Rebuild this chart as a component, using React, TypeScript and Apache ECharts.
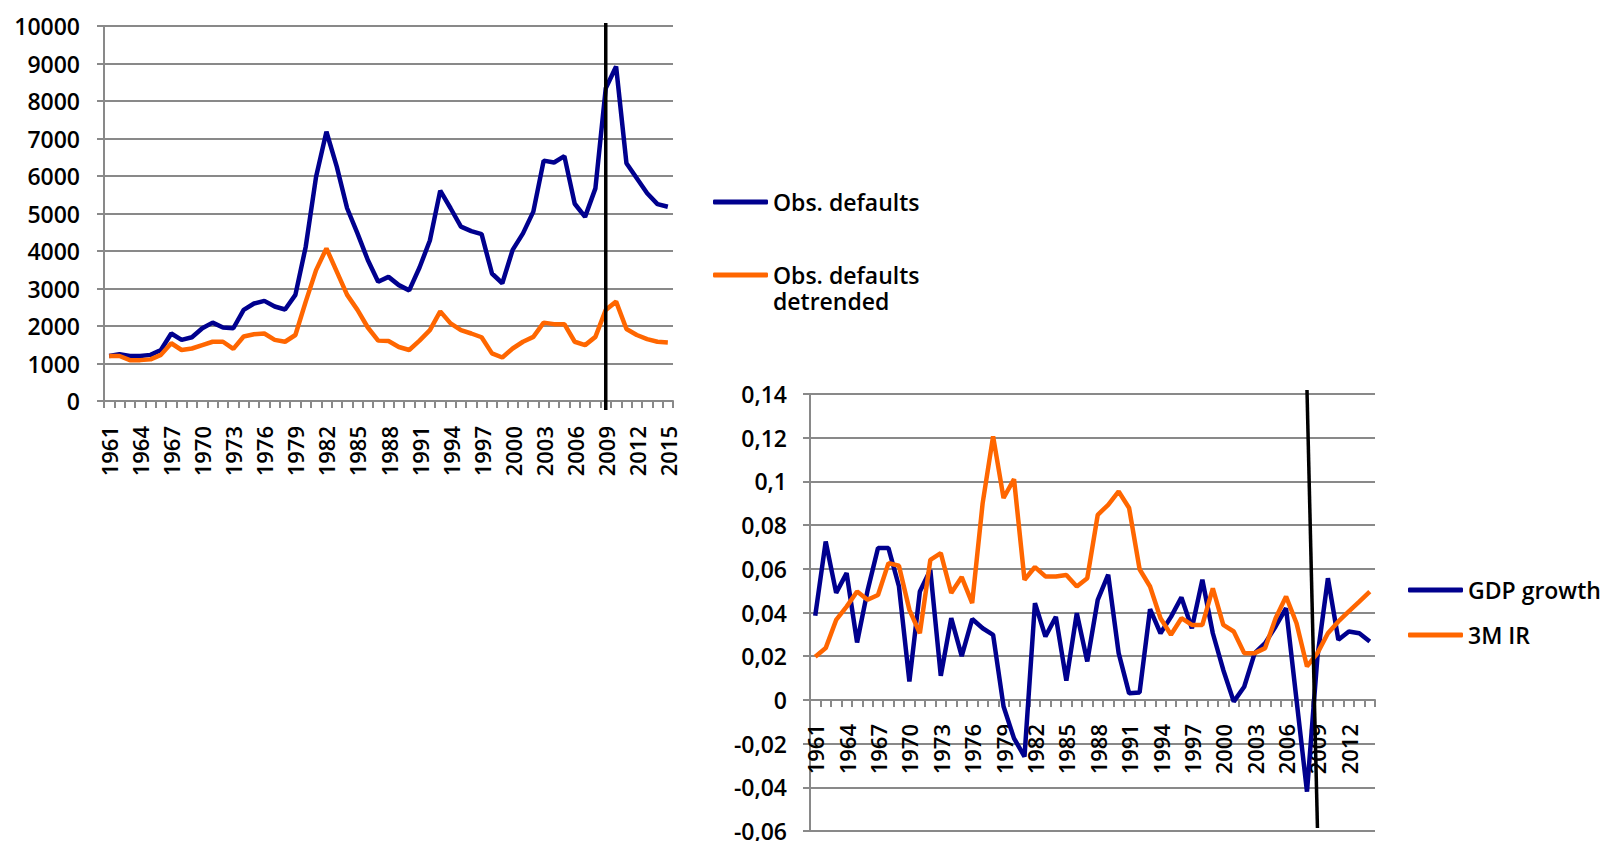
import React, { useEffect, useRef } from "react";
import * as echarts from "echarts";

// ---------- data ----------
const yearsTop = [
  "1961","1962","1963","1964","1965","1966","1967","1968","1969","1970",
  "1971","1972","1973","1974","1975","1976","1977","1978","1979","1980",
  "1981","1982","1983","1984","1985","1986","1987","1988","1989","1990",
  "1991","1992","1993","1994","1995","1996","1997","1998","1999","2000",
  "2001","2002","2003","2004","2005","2006","2007","2008","2009","2010",
  "2011","2012","2013","2014","2015",
];

const obsDefaults = [
  1200, 1250, 1200, 1200, 1230, 1360, 1800, 1630, 1700, 1940,
  2090, 1960, 1940, 2430, 2600, 2670, 2520, 2440, 2830, 4115,
  5980, 7180, 6250, 5140, 4470, 3760, 3180, 3310, 3090, 2950,
  3560, 4280, 5610, 5140, 4650, 4530, 4450, 3400, 3140, 4030,
  4470, 5050, 6410, 6360, 6530, 5260, 4910, 5670, 8340, 8920,
  6340, 5940, 5540, 5250, 5180,
];

const obsDetrended = [
  1200, 1200, 1090, 1090, 1110, 1230, 1540, 1360, 1400, 1490,
  1580, 1580, 1390, 1720, 1780, 1800, 1630, 1580, 1760, 2650,
  3490, 4070, 3450, 2830, 2430, 1960, 1610, 1600, 1440, 1360,
  1610, 1890, 2390, 2070, 1890, 1800, 1700, 1270, 1160, 1400,
  1580, 1710, 2090, 2050, 2050, 1580, 1490, 1710, 2430, 2650,
  1920, 1760, 1650, 1580, 1560,
];

const yearsBottom = [
  "1961","1962","1963","1964","1965","1966","1967","1968","1969","1970",
  "1971","1972","1973","1974","1975","1976","1977","1978","1979","1980",
  "1981","1982","1983","1984","1985","1986","1987","1988","1989","1990",
  "1991","1992","1993","1994","1995","1996","1997","1998","1999","2000",
  "2001","2002","2003","2004","2005","2006","2007","2008","2009","2010",
  "2011","2012","2013","2014",
];

const gdpGrowth = [
  0.0385, 0.0725, 0.049, 0.058, 0.0263, 0.05, 0.0695, 0.0695, 0.052, 0.0084,
  0.0496, 0.0595, 0.011, 0.0374, 0.02, 0.037, 0.0328, 0.0298, -0.003, -0.0176,
  -0.026, 0.0443, 0.029, 0.038, 0.0088, 0.0397, 0.0176, 0.0458, 0.0573, 0.0214,
  0.003, 0.0034, 0.0415, 0.0305, 0.038, 0.0469, 0.0328, 0.055, 0.0305, 0.0137,
  -0.0008, 0.006, 0.0214, 0.026, 0.0336, 0.042, 0.0, -0.042, 0.0198, 0.0557,
  0.0275, 0.0313, 0.0305, 0.0267,
];

const ir3m = [
  0.0198, 0.0237, 0.0366, 0.0427, 0.0496, 0.0458, 0.048, 0.0626, 0.0614, 0.0412,
  0.0305, 0.0641, 0.0672, 0.0489, 0.0562, 0.0443, 0.09, 0.1206, 0.0924, 0.101,
  0.055, 0.0608, 0.0565, 0.0565, 0.0572, 0.0519, 0.0557, 0.0847, 0.0893, 0.0954,
  0.0878, 0.0598, 0.0519, 0.0374, 0.0298, 0.0374, 0.0343, 0.0343, 0.0511, 0.0343,
  0.0313, 0.0214, 0.0214, 0.0237, 0.0374, 0.0473, 0.0351, 0.0153, 0.0214, 0.0305,
  0.0359, 0.0405, 0.045, 0.0496,
];

// crisis marker lines: [year, value] endpoints
const topMarker = [["2009", 10080], ["2009", -240]];
const bottomMarker = [["2008", 0.1418], ["2009", -0.0586]];

// ---------- styles ----------
const FONT = "'Open Sans', sans-serif";
const GRID = "#898989";
const BLUE = "#00008e";
const ORANGE = "#ff6600";
const WEIGHT = 600;

export default function App() {
  const ref = useRef<HTMLDivElement>(null);

  useEffect(() => {
    if (!ref.current) return;
    const chart = echarts.init(ref.current, undefined, { renderer: "svg" });

    const axisLineStyle = { color: GRID, width: 2 };
    const commaFmt = (v: number) => {
      const r = Math.round(v * 100) / 100;
      return r === 0 ? "0" : String(r).replace(".", ",");
    };
    const plainFmt = (v: number) => String(Math.round(v));

    const legendText = { fontSize: 23, color: "#000", fontFamily: FONT, lineHeight: 26, fontWeight: WEIGHT };
    const xLabel = { interval: 2, rotate: 90, fontSize: 22, color: "#000", fontFamily: FONT, fontWeight: WEIGHT };

    chart.setOption({
      animation: false,
      backgroundColor: "#ffffff",
      textStyle: { fontFamily: FONT },
      grid: [
        { left: 104, top: 26, width: 569, height: 375, outerBoundsMode: "none", containLabel: false },
        { left: 810, top: 394, width: 565, height: 437, outerBoundsMode: "none", containLabel: false },
        // upper part (0 .. 0.14) of the bottom chart: carries the category axis on the zero line
        { left: 810, top: 394, width: 565, height: 306, outerBoundsMode: "none", containLabel: false },
      ],
      xAxis: [
        {
          type: "category",
          gridIndex: 0,
          data: yearsTop,
          boundaryGap: true,
          axisLine: { show: true, lineStyle: axisLineStyle },
          axisTick: { show: true, interval: 0, length: 7, lineStyle: axisLineStyle },
          axisLabel: { ...xLabel, margin: 25 },
          splitLine: { show: false },
        },
        {
          type: "category",
          gridIndex: 1,
          data: yearsBottom,
          boundaryGap: true,
          axisLine: { show: false },
          axisTick: { show: false },
          axisLabel: { show: false },
          splitLine: { show: false },
        },
        {
          type: "category",
          gridIndex: 2,
          data: yearsBottom,
          boundaryGap: true,
          axisLine: { show: true, onZero: false, lineStyle: axisLineStyle },
          axisTick: { show: true, interval: 0, length: 7, lineStyle: axisLineStyle },
          axisLabel: { ...xLabel, margin: 24 },
          splitLine: { show: false },
        },
      ],
      yAxis: [
        {
          type: "value",
          gridIndex: 0,
          min: 0,
          max: 10000,
          interval: 1000,
          axisLine: { show: true, lineStyle: axisLineStyle },
          axisTick: { show: true, length: 7, lineStyle: axisLineStyle },
          splitLine: { show: true, lineStyle: { color: GRID, width: 2 } },
          axisLabel: { fontSize: 23, color: "#000", margin: 24, fontFamily: FONT, fontWeight: WEIGHT, formatter: plainFmt },
        },
        {
          type: "value",
          gridIndex: 1,
          min: -0.06,
          max: 0.14,
          interval: 0.02,
          axisLine: { show: true, onZero: false, lineStyle: axisLineStyle },
          axisTick: { show: true, length: 7, lineStyle: axisLineStyle },
          splitLine: { show: true, lineStyle: { color: GRID, width: 2 } },
          axisLabel: { fontSize: 23, color: "#000", margin: 23, fontFamily: FONT, fontWeight: WEIGHT, formatter: commaFmt },
        },
        {
          type: "value",
          gridIndex: 2,
          min: 0,
          max: 0.14,
          show: false,
        },
      ],
      legend: [
        {
          data: ["Obs. defaults"],
          left: 713,
          top: 189,
          orient: "vertical",
          padding: 0,
          itemWidth: 55,
          itemHeight: 5,
          icon: "roundRect",
          selectedMode: false,
          textStyle: legendText,
        },
        {
          data: ["Obs. defaults detrended"],
          left: 713,
          top: 236,
          orient: "vertical",
          padding: 0,
          itemWidth: 55,
          itemHeight: 5,
          icon: "roundRect",
          selectedMode: false,
          formatter: () => "{s| }\n{a|Obs. defaults}\n{a|detrended}",
          textStyle: {
            ...legendText,
            rich: {
              s: { fontSize: 23, lineHeight: 26, fontFamily: FONT },
              a: { fontSize: 23, lineHeight: 26, fontFamily: FONT, fontWeight: WEIGHT, color: "#000" },
            },
          },
        },
        {
          data: ["GDP growth", "3M IR"],
          left: 1408,
          top: 577,
          orient: "vertical",
          padding: 0,
          itemGap: 19,
          itemWidth: 55,
          itemHeight: 5,
          icon: "roundRect",
          selectedMode: false,
          textStyle: legendText,
        },
      ],
      series: [
        {
          name: "Obs. defaults",
          type: "line",
          xAxisIndex: 0,
          yAxisIndex: 0,
          data: obsDefaults,
          symbol: "none",
          lineStyle: { color: BLUE, width: 4.5 },
          itemStyle: { color: BLUE },
        },
        {
          name: "Obs. defaults detrended",
          type: "line",
          xAxisIndex: 0,
          yAxisIndex: 0,
          data: obsDetrended,
          symbol: "none",
          lineStyle: { color: ORANGE, width: 4.5 },
          itemStyle: { color: ORANGE },
        },
        {
          name: "GDP growth",
          type: "line",
          xAxisIndex: 1,
          yAxisIndex: 1,
          data: gdpGrowth,
          symbol: "none",
          z: 3,
          lineStyle: { color: BLUE, width: 4.5 },
          itemStyle: { color: BLUE },
        },
        {
          name: "3M IR",
          type: "line",
          xAxisIndex: 1,
          yAxisIndex: 1,
          data: ir3m,
          symbol: "none",
          z: 3,
          lineStyle: { color: ORANGE, width: 4.5 },
          itemStyle: { color: ORANGE },
        },
      ],
    });

    const toPx = (idx: number, p: (string | number)[]) =>
      chart.convertToPixel({ xAxisIndex: idx, yAxisIndex: idx }, p as any) as number[];
    const a1 = toPx(0, topMarker[0]);
    const a2 = toPx(0, topMarker[1]);
    const b1 = toPx(1, bottomMarker[0]);
    const b2 = toPx(1, bottomMarker[1]);

    chart.setOption({
      graphic: [
        {
          type: "line",
          z: 100,
          silent: true,
          shape: { x1: a1[0], y1: a1[1], x2: a2[0], y2: a2[1] },
          style: { stroke: "#000", lineWidth: 3.5 },
        },
        {
          type: "line",
          z: 100,
          silent: true,
          shape: { x1: b1[0], y1: b1[1], x2: b2[0], y2: b2[1] },
          style: { stroke: "#000", lineWidth: 3.5 },
        },
      ],
    });

    return () => chart.dispose();
  }, []);

  return (
    <div
      ref={ref}
      style={{ position: "absolute", left: 0, top: 0, width: 1607, height: 841, background: "#fff" }}
    />
  );
}
